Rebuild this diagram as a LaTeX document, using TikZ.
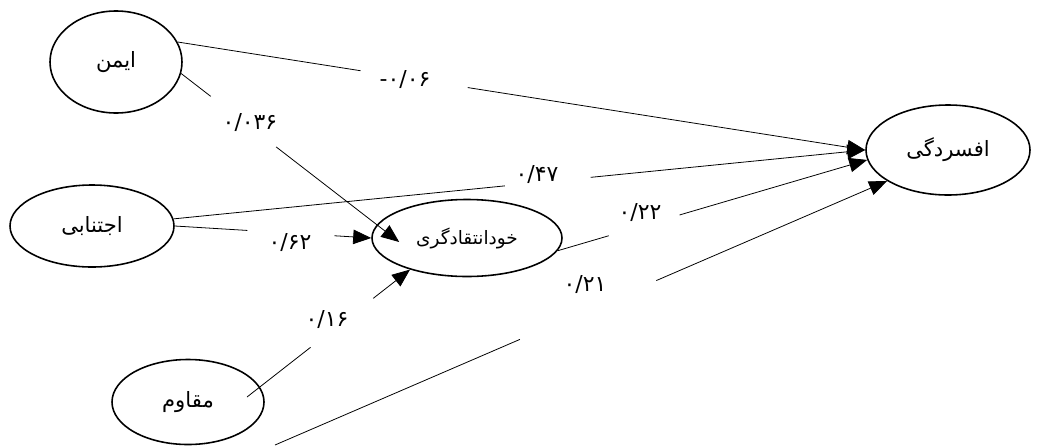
\documentclass[tikz,border=0pt]{standalone}
\usepackage{fontspec}
\usetikzlibrary{positioning, calc, arrows.meta, shapes.geometric}
\TeXXeTstate=1
\newfontfamily\arabicfont[Script=Arabic]{DejaVu Sans}
\newcommand{\fa}[1]{{\arabicfont\beginR #1\endR}}

\begin{document}
\begin{tikzpicture}[
  x=0.2mm, y=-0.2mm,
  >={Triangle[length=3.6mm, width=2.9mm]},
  latent/.style = {draw, ellipse, line width=0.9pt, inner sep=0pt,
                   font=\fontsize{12}{14}\selectfont},
  coef/.style   = {inner sep=1pt, font=\arabicfont\fontsize{12.5}{15}\selectfont},
  lnk/.style    = {line width=0.45pt},
]
  \useasboundingbox (0,0) rectangle (1038,445);

  % latent variables
  \node[latent, minimum width=26.4mm, minimum height=20.4mm] (imen)      at (116,62)  {\fa{ایمن}};
  \node[latent, minimum width=32.8mm, minimum height=16.4mm] (ejtenabi)  at (92,226)  {\fa{اجتنابی}};
  \node[latent, minimum width=30.4mm, minimum height=17mm]   (moqavem)   at (188,402) {\fa{مقاوم}};
  \node[latent, minimum width=38mm,   minimum height=15.4mm,
        font=\fontsize{10.5}{12}\selectfont]                 (khod)      at (467,238) {\fa{خودانتقادگری}};
  \node[latent, minimum width=32.8mm, minimum height=18mm]   (afsordegi) at (948,150) {\fa{افسردگی}};

  % paths, each broken where its coefficient sits
  \draw[lnk, ->] (imen.18) -- ($(imen.18)!.266!(afsordegi.west)$)
                 ($(imen.18)!.422!(afsordegi.west)$) -- (afsordegi.west);
  \draw[lnk, ->] (imen.-10) -- ($(imen.-10)!.136!($(khod.west)+(28,4)$)$)
                 ($(imen.-10)!.436!($(khod.west)+(28,4)$)$) -- ($(khod.west)+(28,4)$);
  \draw[lnk, ->] (ejtenabi.5) -- ($(ejtenabi.5)!.479!(afsordegi.west)$)
                 ($(ejtenabi.5)!.603!(afsordegi.west)$) -- (afsordegi.west);
  \draw[lnk, ->] (ejtenabi.east) -- ($(ejtenabi.east)!.369!(khod.west)$)
                 ($(ejtenabi.east)!.813!(khod.west)$) -- (khod.west);
  \draw[lnk, ->] (khod.-8) -- ($(khod.-8)!.165!(afsordegi.187)$)
                 ($(khod.-8)!.394!(afsordegi.187)$) -- (afsordegi.187);
  \draw[lnk, ->] ($(moqavem.center)+(59,-5)$) -- ($($(moqavem.center)+(59,-5)$)!.39!(khod.209)$)
                 ($($(moqavem.center)+(59,-5)$)!.774!(khod.209)$) -- (khod.209);
  \draw[lnk, ->] ($(moqavem.center)+(87,43)$) -- ($($(moqavem.center)+(87,43)$)!.40!(afsordegi.207)$)
                 ($($(moqavem.center)+(87,43)$)!.623!(afsordegi.207)$) -- (afsordegi.207);

  % coefficients
  \node[coef] (b1) at (405,80)  {\hbox{-}\hbox{۰/۰۶}};
  \node[coef] (b2) at (250,123) {۰/۰۳۶};
  \node[coef] (b3) at (537,175) {۰/۴۷};
  \node[coef] (b4) at (290,243) {۰/۶۲};
  \node[coef] (b5) at (640,213) {۰/۲۲};
  \node[coef] (b6) at (327,320) {۰/۱۶};
  \node[coef] (b7) at (585,285) {۰/۲۱};
\end{tikzpicture}
\end{document}
